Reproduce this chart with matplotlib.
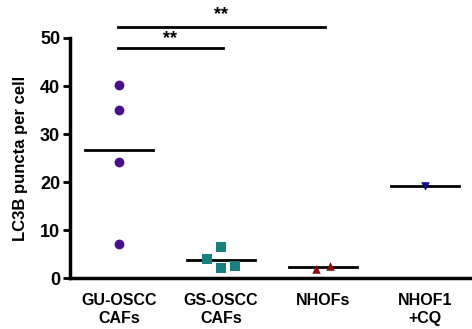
import matplotlib.pyplot as plt
import numpy as np

plt.rcParams['font.family'] = ['Liberation Sans', 'DejaVu Sans']
plt.rcParams['font.weight'] = 'bold'

# groups and values
groups = ['GU-OSCC\nCAFs', 'GS-OSCC\nCAFs', 'NHOFs', 'NHOF1\n+CQ']
gu_vals = [40.2, 35.0, 24.2, 7.0]
gs_vals = [6.4, 3.9, 2.1, 2.6]
nh_vals = [1.9, 2.6]
cq_vals = [19.2]

gu_off = [0, 0, 0, 0]
gs_off = [0, -0.14, 0, 0.14]
nh_off = [-0.07, 0.07]
cq_off = [0]

series = [
    (gu_vals, gu_off, 'o', '#4a0f8c', 50),
    (gs_vals, gs_off, 's', '#197f7f', 50),
    (nh_vals, nh_off, '^', '#8b0a0a', 38),
    (cq_vals, cq_off, 'v', '#0c0c8c', 38),
]

fig = plt.figure(figsize=(4.72, 3.29), dpi=100)
ax = fig.add_axes([0.148, 0.155, 0.852, 0.7295])

for i, (vals, offs, mk, col, sz) in enumerate(series):
    x = i + np.array(offs)
    ax.scatter(x, vals, marker=mk, color=col, s=sz, zorder=3, linewidths=0)
    m = np.mean(vals)
    ax.plot([i - 0.33, i + 0.33], [m, m], color='black', lw=2, zorder=2)

# significance brackets
ax.plot([-0.01, 2.02], [52.3, 52.3], color='black', lw=2, clip_on=False)
ax.text(1.0, 54.8, '**', ha='center', va='center', fontsize=13)
ax.plot([-0.01, 1.02], [47.9, 47.9], color='black', lw=2, clip_on=False)
ax.text(0.5, 49.9, '**', ha='center', va='center', fontsize=13)

ax.set_xlim(-0.48, 3.46)
ax.set_ylim(0, 50)
ax.set_yticks([0, 10, 20, 30, 40, 50])
ax.set_xticks(range(4))
ax.set_xticklabels(groups, fontsize=11.5, fontweight='bold')
ax.tick_params(axis='x', length=0, pad=11)
ax.tick_params(axis='y', width=2, length=5, labelsize=13, pad=2)
for lab in ax.get_yticklabels():
    lab.set_fontweight('bold')
ax.set_ylabel('LC3B puncta per cell', fontsize=12, fontweight='bold', labelpad=9)

ax.spines['top'].set_visible(False)
ax.spines['right'].set_visible(False)
ax.spines['left'].set_linewidth(2.5)
ax.spines['bottom'].set_linewidth(2.5)

fig.savefig('out.png', dpi=100)
